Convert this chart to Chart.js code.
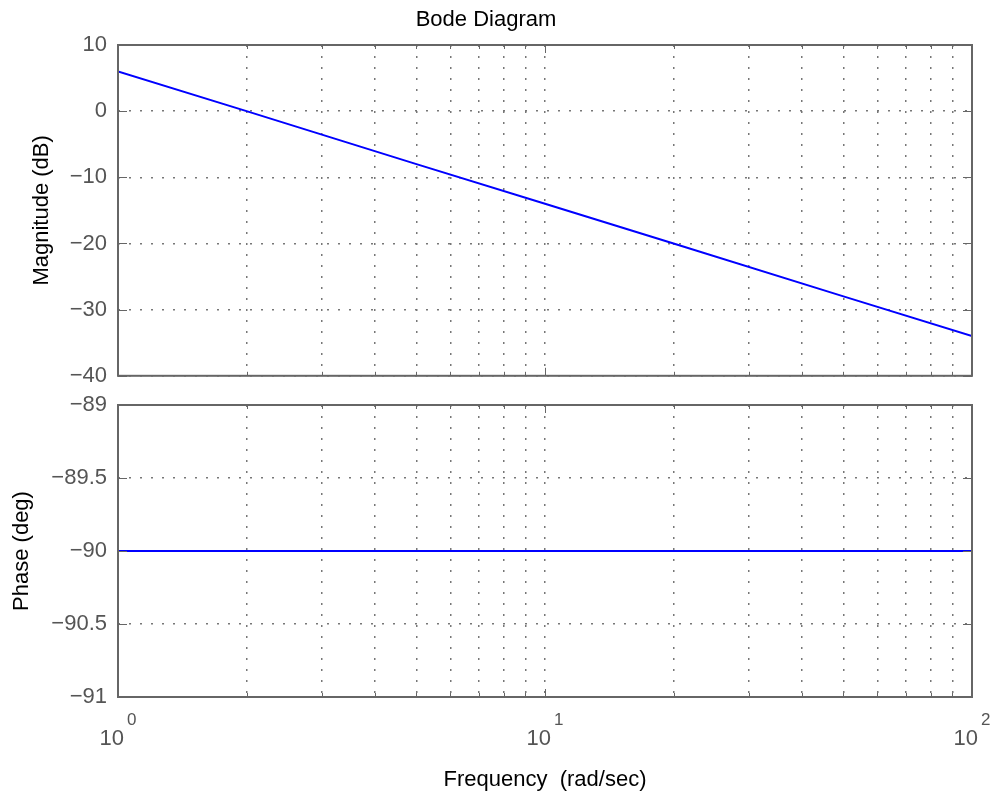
<!DOCTYPE html>
<html>
<head>
<meta charset="utf-8">
<title>Bode Diagram</title>
<script src="https://cdn.jsdelivr.net/npm/chart.js@4.4.1/dist/chart.umd.min.js"></script>
<style>
  html, body { margin: 0; padding: 0; background: #fff; }
  body { width: 994px; height: 795px; position: relative; overflow: hidden; }
  .box { position: absolute; left: 0; width: 994px; }
  #magBox { top: 0; height: 400px; }
  #phaseBox { top: 380px; height: 415px; }
</style>
</head>
<body>
<div class="box" id="magBox"><canvas id="magChart"></canvas></div>
<div class="box" id="phaseBox"><canvas id="phaseChart"></canvas></div>
<script>
// points (frequency in rad/sec)
const freq = [1, 2, 5, 10, 20, 50, 100];
const magDb = [6, 0, -8, -14, -20, -28, -34];
const phaseDeg = [-90, -90, -90, -90, -90, -90, -90];

// tick / grid positions
const freqGrid = [1, 2, 3, 4, 5, 6, 7, 8, 9, 10, 20, 30, 40, 50, 60, 70, 80, 90, 100];
const freqDecades = [1, 10, 100];
const freqExponents = ['0', '1', '2'];
const magTicks = [10, 0, -10, -20, -30, -40];
const phaseTicks = [-89, -89.5, -90, -90.5, -91];

const FONT = "'Liberation Sans', Arial, Helvetica, sans-serif";
const frameColor = '#666666';
const gridColor = '#777777';
const tickColor = '#555555';

// MATLAB style box with inward ticks, plus 10^n labels on the bottom axes
const framePlugin = {
  id: 'frame',
  afterDraw(chart, args, opts) {
    const { ctx, chartArea: a, scales: { x, y } } = chart;
    ctx.save();
    ctx.strokeStyle = frameColor;
    ctx.lineWidth = 1;
    ctx.beginPath();
    x.ticks.forEach(t => {
      const px = Math.round(x.getPixelForValue(t.value)) + 0.5;
      const len = freqDecades.includes(t.value) ? 8 : 4;
      ctx.moveTo(px, a.top); ctx.lineTo(px, a.top + len);
      ctx.moveTo(px, a.bottom); ctx.lineTo(px, a.bottom - len);
    });
    y.ticks.forEach(t => {
      const py = Math.round(y.getPixelForValue(t.value)) + 0.5;
      ctx.moveTo(a.left, py); ctx.lineTo(a.left + 9, py);
      ctx.moveTo(a.right, py); ctx.lineTo(a.right - 9, py);
    });
    ctx.stroke();
    ctx.lineWidth = 2;
    ctx.strokeRect(a.left, a.top, a.right - a.left, a.bottom - a.top);

    if (opts.decadeLabels) {
      ctx.fillStyle = tickColor;
      ctx.textAlign = 'left';
      ctx.textBaseline = 'alphabetic';
      freqDecades.forEach((v, i) => {
        const px = x.getPixelForValue(v);
        ctx.font = '22px ' + FONT;
        const wb = ctx.measureText('10').width;
        ctx.font = '17px ' + FONT;
        const we = ctx.measureText(freqExponents[i]).width;
        const gap = 3;
        const left = px - (wb + gap + we) / 2;
        ctx.font = '22px ' + FONT;
        ctx.fillText('10', left, a.bottom + 48);
        ctx.font = '17px ' + FONT;
        ctx.fillText(freqExponents[i], left + wb + gap, a.bottom + 28);
      });
    }
    ctx.restore();
  }
};

const minus = v => String(v).replace('-', '\u2212');

function xScale(height, title) {
  return {
    type: 'logarithmic',
    min: freqDecades[0],
    max: freqDecades[freqDecades.length - 1],
    afterBuildTicks: s => { s.ticks = freqGrid.map(v => ({ value: v })); },
    afterFit: s => { s.height = height; },
    ticks: { display: false },
    grid: { color: gridColor, lineWidth: 1.5, drawTicks: false },
    border: { display: false, dash: [2, 9] },
    title: title
      ? { display: true, text: title, color: '#000', font: { family: FONT, size: 22 }, padding: { top: 0, bottom: 2 } }
      : { display: false }
  };
}

function yScale(ticks, title, titlePad) {
  return {
    min: Math.min(...ticks),
    max: Math.max(...ticks),
    afterBuildTicks: s => { s.ticks = ticks.map(v => ({ value: v })); },
    afterFit: s => { s.width = 118; },
    ticks: {
      color: tickColor,
      font: { family: FONT, size: 22 },
      padding: 11,
      autoSkip: false,
      callback: v => minus(v)
    },
    grid: { color: gridColor, lineWidth: 1.5, drawTicks: false },
    border: { display: false, dash: [2, 9] },
    title: { display: true, text: title, color: '#000', font: { family: FONT, size: 22 }, padding: { top: titlePad, bottom: 0 } }
  };
}

function series(values) {
  return {
    data: freq.map((f, i) => ({ x: f, y: values[i] })),
    borderColor: '#0000ff',
    borderWidth: 2,
    pointRadius: 0,
    tension: 0,
    fill: false
  };
}

new Chart(document.getElementById('magChart'), {
  type: 'line',
  data: { datasets: [series(magDb)] },
  options: {
    responsive: true,
    maintainAspectRatio: false,
    animation: false,
    layout: { padding: { top: 0, left: 0, right: 22, bottom: 23 } },
    plugins: {
      legend: { display: false },
      tooltip: { enabled: false },
      title: {
        display: true,
        text: 'Bode Diagram',
        color: '#000',
        font: { family: FONT, size: 22, weight: 'normal' },
        padding: { top: 7, bottom: 11.6 }
      },
      frame: { decadeLabels: false }
    },
    scales: {
      x: xScale(0, null),
      y: yScale(magTicks, 'Magnitude (dB)', 29)
    }
  },
  plugins: [framePlugin]
});

new Chart(document.getElementById('phaseChart'), {
  type: 'line',
  data: { datasets: [series(phaseDeg)] },
  options: {
    responsive: true,
    maintainAspectRatio: false,
    animation: false,
    layout: { padding: { top: 25, left: 0, right: 22, bottom: 0 } },
    plugins: {
      legend: { display: false },
      tooltip: { enabled: false },
      frame: { decadeLabels: true }
    },
    scales: {
      x: xScale(98, 'Frequency  (rad/sec)'),
      y: yScale(phaseTicks, 'Phase (deg)', 9)
    }
  },
  plugins: [framePlugin]
});
</script>
</body>
</html>
